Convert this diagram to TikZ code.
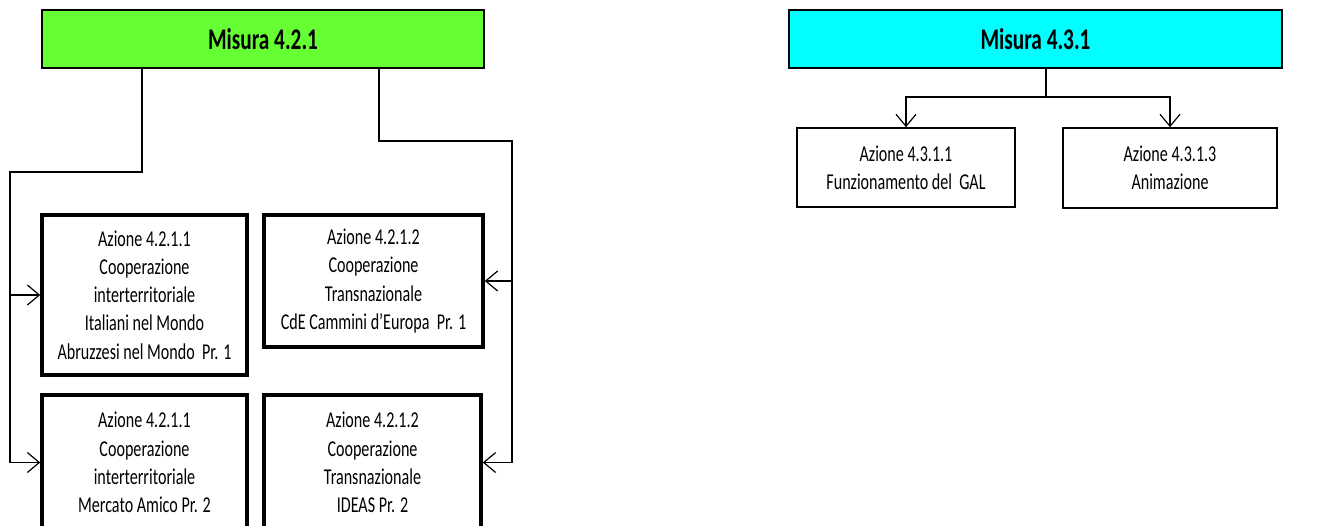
\documentclass[tikz,border=0pt]{standalone}
\usepackage{fontspec}
\setmainfont{Carlito}[FakeStretch=0.71]
\usepackage{tikz}
\usetikzlibrary{arrows.meta}
\definecolor{MisGreen}{RGB}{102,255,51}
\definecolor{MisCyan}{RGB}{0,255,255}

\begin{document}
\begin{tikzpicture}[line cap=butt,line join=miter,x=0.75pt,y=-0.75pt,
  >={Straight Barb[length=9pt,width=15pt,line width=0.9pt]},
  misura/.style={draw,line width=1.5pt,inner sep=0pt,minimum height=43.5pt,
    font=\fontsize{22.5}{27}\selectfont\bfseries},
  azione/.style={draw,line width=2.6pt,inner sep=0pt,align=center,
    font=\fontsize{17}{21.2}\selectfont},
  azsub/.style={azione,line width=1.2pt},
  conn/.style={line width=1.1pt}]
  \clip (0,0) rectangle (1326,525);
  % misure
  \node[misura,fill=MisGreen,minimum width=331.5pt] (mis421) at (263,39) {Misura 4.2.1};
  \node[misura,fill=MisCyan,minimum width=369.75pt] (mis431) at (1035.5,39) {Misura 4.3.1};
  % azioni 4.2.1
  \node[azione,minimum width=153.75pt,minimum height=120pt] (az1) at (144.5,295)
    {Azione 4.2.1.1\\Cooperazione\\interterritoriale\\Italiani nel Mondo\\Abruzzesi nel Mondo\ \ Pr. 1};
  \node[azione,minimum width=164.25pt,minimum height=99pt] (az2) at (373.5,281)
    {Azione 4.2.1.2\\Cooperazione\\Transnazionale\\CdE Cammini d’Europa\ \ Pr. 1};
  \node[azione,minimum width=153.75pt,minimum height=101.25pt] (az3) at (144.5,462.5)
    {Azione 4.2.1.1\\Cooperazione\\interterritoriale\\Mercato Amico Pr. 2};
  \node[azione,minimum width=162.75pt,minimum height=101.25pt] (az4) at (372.5,462.5)
    {Azione 4.2.1.2\\Cooperazione\\Transnazionale\\IDEAS Pr. 2};
  % azioni 4.3.1
  \node[azsub,minimum width=163.5pt,minimum height=59.25pt] (az5) at (906,167.5)
    {Azione 4.3.1.1\\Funzionamento del\ \ GAL};
  \node[azsub,minimum width=160.5pt,minimum height=60pt] (az6) at (1170,168)
    {Azione 4.3.1.3\\Animazione};
  % connettori
  \coordinate (lk) at (142,172);
  \coordinate (lx) at (10,172);
  \coordinate (rk) at (379,141);
  \coordinate (rx) at (512,141);
  \coordinate (ck) at (1046,97);
  \draw[conn,->] (mis421.south -| lk) -- (lk) -- (lx) |- (az3.west);
  \draw[conn,->] (lx |- az1.west) -- (az1.west);
  \draw[conn,->] (mis421.south -| rk) -- (rk) -- (rx) |- (az4.east);
  \draw[conn,->] (rx |- az2.east) -- (az2.east);
  \draw[conn] (mis431.south -| ck) -- (ck);
  \draw[conn,->] (ck) -| (az5.north);
  \draw[conn,->] (ck) -| (az6.north);
\end{tikzpicture}
\end{document}
